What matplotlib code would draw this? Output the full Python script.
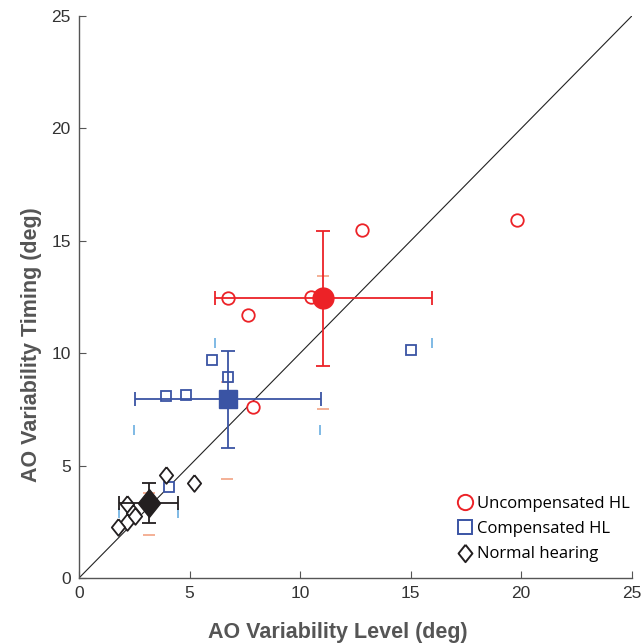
"""
AO variability: level vs timing, by hearing group
"""

import matplotlib
matplotlib.use('Agg')
import matplotlib.pyplot as plt
from matplotlib.lines import Line2D
import numpy as np

# individual subjects (level, timing)
uncomp_x = [19.8, 12.8, 6.75, 10.5, 7.65, 7.85]
uncomp_y = [15.95, 15.5, 12.45, 12.5, 11.7, 7.6]
comp_x = [3.95, 4.85, 6.0, 6.75, 15.0, 4.05]
comp_y = [8.1, 8.15, 9.7, 8.95, 10.15, 4.05]
normal_x = [3.95, 5.2, 2.15, 2.45, 2.15, 1.75, 2.55]
normal_y = [4.6, 4.25, 3.3, 2.9, 2.5, 2.25, 2.75]

# group means and error bars
mean_x = [11.05, 6.75, 3.15]
mean_y = [12.45, 7.95, 3.35]
err_x = [4.9, 4.2, 1.35]
err_y = [3.0, 2.15, 0.9]

# faint leftover caps (from the underlying layer)
ghost_h_x = [6.15, 15.95, 2.5, 10.9, 1.8, 4.5]
ghost_h_y = [10.45, 10.45, 6.6, 6.6, 2.9, 2.9]
ghost_v_x = [11.05, 11.05, 6.7, 6.7, 3.15, 3.15]
ghost_v_y = [13.45, 7.5, 8.7, 4.4, 3.8, 1.9]

labels = ['Uncompensated HL', 'Compensated HL', 'Normal hearing']
colors = ['#ec2227', '#3a54a4', '#231f20']

# slightly tall diamond, like the original
diamond = [(0, 1), (0.8, 0), (0, -1), (-0.8, 0), (0, 1)]
markers = ['o', 's', diamond]
open_sizes = [9, 7.5, 12]
mean_sizes = [15, 13.5, 20]
legend_sizes = [11, 9.5, 12.5]

fig = plt.figure(figsize=(6.42, 6.43), dpi=100)
ax = fig.add_axes([0.123, 0.101, 0.861, 0.874])

ax.plot([0, 25], [0, 25], color='#222222', linewidth=0.8, zorder=1)

ax.plot(ghost_h_x, ghost_h_y, linestyle='none', marker='|', markersize=7,
        markeredgewidth=1.2, color='#6aaee0', zorder=1)
ax.plot(ghost_v_x, ghost_v_y, linestyle='none', marker='_', markersize=8,
        markeredgewidth=1.2, color='#f2a384', zorder=1)

groups = [(uncomp_x, uncomp_y), (comp_x, comp_y), (normal_x, normal_y)]
for i, (gx, gy) in enumerate(groups):
    ax.plot(gx, gy, linestyle='none', marker=markers[i], markersize=open_sizes[i],
            markerfacecolor='white', markeredgecolor=colors[i],
            markeredgewidth=1.3, zorder=3)
    ax.errorbar(mean_x[i], mean_y[i], xerr=err_x[i], yerr=err_y[i],
                fmt='none', ecolor=colors[i], elinewidth=1.3, capsize=5,
                capthick=1.3, zorder=4)
    ax.plot(mean_x[i], mean_y[i], linestyle='none', marker=markers[i],
            markersize=mean_sizes[i], color=colors[i], zorder=5)

ax.set_xlim(0, 25)
ax.set_ylim(0, 25)
ax.set_xticks(np.arange(0, 26, 5))
ax.set_yticks(np.arange(0, 26, 5))
for side in ['top', 'right']:
    ax.spines[side].set_visible(False)
for side in ['left', 'bottom']:
    ax.spines[side].set_color('#555555')
    ax.spines[side].set_linewidth(1.0)
ax.tick_params(direction='in', length=5, color='#555555', labelcolor='#333333',
               labelsize=12.5, pad=6)
for lab in ax.get_xticklabels() + ax.get_yticklabels():
    lab.set_family('Liberation Sans')

ax.set_xlabel('AO Variability Level (deg)', fontsize=15.5, fontweight='bold',
              color='#555555', family='Liberation Sans')
ax.set_ylabel('AO Variability Timing (deg)', fontsize=15.5, fontweight='bold',
              color='#555555', family='Liberation Sans')
ax.xaxis.set_label_coords(0.468, -0.078)
ax.yaxis.set_label_coords(-0.066, 0.415)

handles = [Line2D([], [], linestyle='none', marker=markers[i],
                  markersize=legend_sizes[i], markerfacecolor='white',
                  markeredgecolor=colors[i], markeredgewidth=1.4)
           for i in range(3)]
ax.legend(handles, labels, loc='lower right', bbox_to_anchor=(1.015, 0.01),
          frameon=False, prop={'family': 'Open Sans', 'size': 12},
          handletextpad=0.15, handlelength=1.2, labelspacing=0.55,
          borderaxespad=0.2)

plt.savefig('out.png', dpi=100)
